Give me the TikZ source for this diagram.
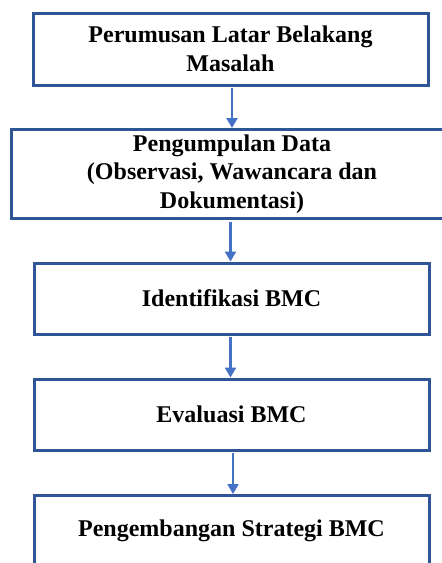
\documentclass[tikz,border=0pt]{standalone}
\usepackage{fontspec}
\setmainfont{Liberation Serif}
\usetikzlibrary{arrows.meta}
\definecolor{boxblue}{HTML}{2F5597}
\definecolor{arrblue}{HTML}{4472C4}
\tikzset{
  stepbox/.style={draw=boxblue, line width=3pt, fill=white, align=center,
    inner sep=0pt, minimum width=395pt,
    font=\fontsize{24pt}{28.5pt}\selectfont\bfseries},
  arr/.style={draw=arrblue, line width=2.5pt, -{Triangle[width=11pt,length=10pt]}}
}
\begin{document}
\begin{tikzpicture}[x=1pt,y=-1pt]
\useasboundingbox (0,0) rectangle (442,563);
\clip (0,0) rectangle (442,563);
\node[stepbox, minimum height=72pt] (b1) at (230.5,49) {Perumusan Latar Belakang\\Masalah};
\node[stepbox, minimum width=442pt, minimum height=89pt] (b2) at (232,174) {Pengumpulan Data\\(Observasi, Wawancara dan\\Dokumentasi)};
\node[stepbox, minimum height=71pt] (b3) at (231.5,298.5) {Identifikasi BMC};
\node[stepbox, minimum height=71pt] (b4) at (231.5,414.5) {Evaluasi BMC};
\node[stepbox, minimum height=71pt] (b5) at (231.5,531) {Pengembangan Strategi BMC};
\draw[arr] (b1.south) ++(1.5,1.5) coordinate (a1) -- (a1 |- b2.north);
\draw[arr] (b2.south) ++(-1.5,1.5) coordinate (a2) -- (a2 |- b3.north);
\draw[arr] (b3.south) ++(-1,1.5) coordinate (a3) -- (a3 |- b4.north);
\draw[arr] (b4.south) ++(1.5,1.5) coordinate (a4) -- (a4 |- b5.north);
\end{tikzpicture}
\end{document}
